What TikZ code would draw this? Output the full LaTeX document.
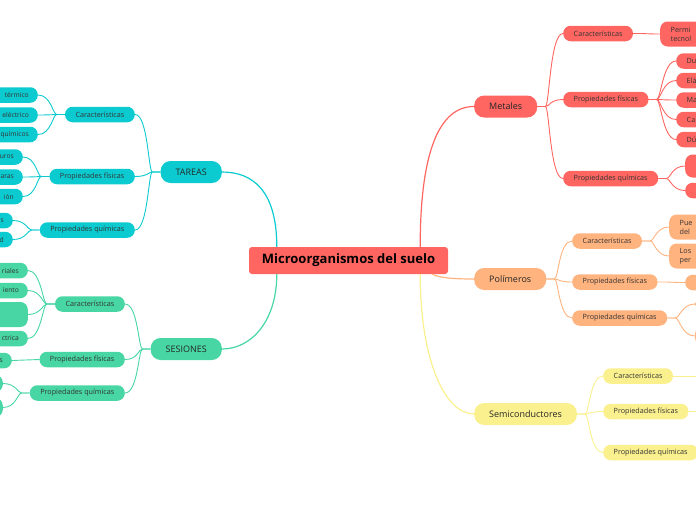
\documentclass[tikz,border=0pt]{standalone}
\usepackage{fontspec}
\setmainfont{Open Sans}
\usepackage{tikz}
\usetikzlibrary{positioning}
\definecolor{mmred}{HTML}{FF6661}
\definecolor{tcyan}{HTML}{0CCBD0}
\definecolor{tmint}{HTML}{47D6A4}
\definecolor{peach}{HTML}{FFB37F}
\definecolor{yel}{HTML}{FAF08E}
\tikzstyle{root} = [rectangle, rounded corners=3pt, fill=mmred, minimum width=199pt, minimum height=27pt, font=\fontsize{13}{15}\selectfont\bfseries]
\tikzstyle{topic} = [rectangle, rounded corners=10pt, minimum height=22pt, inner xsep=15pt, font=\fontsize{9}{11}\selectfont, text=black!85]
\tikzstyle{subnode} = [rectangle, rounded corners=7.5pt, minimum height=15.5pt, inner xsep=10.5pt, font=\fontsize{7.2}{9}\selectfont, text=black!80]
\tikzstyle{leafL} = [subnode, anchor=east, text width=45pt, align=right, inner xsep=9pt, font=\fontsize{6.7}{9}\selectfont]
\tikzstyle{leafR} = [subnode, anchor=west, text width=45pt, align=left]
\tikzstyle{branch} = [line width=1.2pt]
\tikzstyle{twig} = [line width=0.9pt]
\tikzstyle{twigR} = [to path={-- ++(8,0) .. controls +(4,0) and +(-13,0) .. (\tikztotarget)}]
\tikzstyle{twigL} = [to path={-- ++(-8,0) .. controls +(-4,0) and +(13,0) .. (\tikztotarget)}]

\begin{document}
\begin{tikzpicture}[x=1pt, y=-1pt]

  \useasboundingbox (0,0) rectangle (696,520);
  \clip (0,0) rectangle (696,520);

  \node[root] (root) at (348.5,260.5) {Microorganismos del suelo};

  % TAREAS
  \begin{scope}
    \node[topic, fill=tcyan, anchor=east] (tareas) at (222,172) {TAREAS};
    \draw[branch, tcyan] (root.north west) ++(28,0) .. controls +(0,-57) and +(30,0) .. (tareas.east);

    \node[subnode, fill=tcyan, anchor=east] (tcar) at (135,114.5) {Características};
    \node[subnode, fill=tcyan, anchor=east] (tfis) at (135,176.5) {Propiedades físicas};
    \node[subnode, fill=tcyan, anchor=east] (tqui) at (135,230) {Propiedades químicas};
    \foreach \s in {tcar, tfis, tqui} {
      \draw[twig, tcyan] (tareas.west) to[twigL] (\s.east);
    }

    \foreach \y/\t [count=\i] in {95/térmico, 115/eléctrico, 134.5/químicos} {
      \node[leafL, fill=tcyan] (tcar\i) at (38,\y) {\t};
      \draw[twig, tcyan] (tcar.west) to[twigL] (tcar\i.east);
    }
    \foreach \y/\t [count=\i] in {157/uros, 177/aras, 196.5/ión} {
      \node[leafL, fill=tcyan] (tfis\i) at (23,\y) {\t};
      \draw[twig, tcyan] (tfis.west) to[twigL] (tfis\i.east);
    }
    \foreach \y/\t [count=\i] in {220.5/s, 239.5/d} {
      \node[leafL, fill=tcyan] (tqui\i) at (13,\y) {\t};
      \draw[twig, tcyan] (tqui.west) to[twigL] (tqui\i.east);
    }
  \end{scope}

  % SESIONES
  \begin{scope}
    \node[topic, fill=tmint, anchor=east] (sesiones) at (222,349) {SESIONES};
    \draw[branch, tmint] (root.south west) ++(28,0) .. controls +(0,46) and +(30,0) .. (sesiones.east);

    \node[subnode, fill=tmint, anchor=east] (scar) at (125,304) {Características};
    \node[subnode, fill=tmint, anchor=east] (sfis) at (125,359.5) {Propiedades físicas};
    \node[subnode, fill=tmint, anchor=east] (squi) at (125,393) {Propiedades químicas};
    \foreach \s in {scar, sfis, squi} {
      \draw[twig, tmint] (sesiones.west) to[twigL] (\s.east);
    }

    \foreach \y/\t/\h [count=\i] in {270.5/riales/15.5, 290.5/iento/15.5, 314.5/{}/25, 338.5/ctrica/15.5} {
      \node[leafL, fill=tmint, minimum height=\h] (scar\i) at (28,\y) {\t};
      \draw[twig, tmint] (scar.west) to[twigL] (scar\i.east);
    }
    \node[leafL, fill=tmint] (sfis1) at (12,360.5) {s};
    \draw[twig, tmint] (sfis.west) -- (sfis1.east);
    \foreach \y/\h [count=\i] in {383.5/17, 407.5/19} {
      \node[leafL, fill=tmint, minimum height=\h] (squi\i) at (3,\y) {};
      \draw[twig, tmint] (squi.west) to[twigL] (squi\i.east);
    }
  \end{scope}

  % Metales
  \begin{scope}
    \node[topic, fill=mmred, anchor=west] (metales) at (474,106.5) {Metales};
    \draw[branch, mmred] (root.north east) ++(-28,0) .. controls +(0,-97) and +(-34,0) .. (metales.west);

    \node[subnode, fill=mmred, anchor=west] (mcar) at (563,33.5) {Características};
    \node[subnode, fill=mmred, anchor=west] (mfis) at (563,99.5) {Propiedades físicas};
    \node[subnode, fill=mmred, anchor=west] (mqui) at (563,178.5) {Propiedades químicas};
    \foreach \s in {mcar, mfis, mqui} {
      \draw[twig, mmred] (metales.east) to[twigR] (\s.west);
    }

    \node[leafR, fill=mmred, minimum height=25] (mcar1) at (660,34) {Permi\\tecnol};
    \draw[twig, mmred] (mcar.east) to[twigR] (mcar1.west);
    \foreach \y/\t [count=\i] in {61/Du, 80.5/Elá, 100/Ma, 119.5/Ca, 139.5/Dú} {
      \node[leafR, fill=mmred] (mfis\i) at (676,\y) {\t};
      \draw[twig, mmred] (mfis.east) to[twigR] (mfis\i.west);
    }
    \foreach \y/\h [count=\i] in {166/23, 190.5/15.5} {
      \node[leafR, fill=mmred, minimum height=\h] (mqui\i) at (685,\y) {};
      \draw[twig, mmred] (mqui.east) to[twigR] (mqui\i.west);
    }
  \end{scope}

  % Polimeros
  \begin{scope}
    \node[topic, fill=peach, anchor=west] (polimeros) at (474,279) {Polímeros};
    \draw[branch, peach] (root.south east) ++(-16,0) .. controls +(8,4) and +(-18,0) .. (polimeros.west);

    \node[subnode, fill=peach, anchor=west] (pcar) at (572,241) {Características};
    \node[subnode, fill=peach, anchor=west] (pfis) at (572,282) {Propiedades físicas};
    \node[subnode, fill=peach, anchor=west] (pqui) at (572,318) {Propiedades químicas};
    \foreach \s in {pcar, pfis, pqui} {
      \draw[twig, peach] (polimeros.east) to[twigR] (\s.west);
    }

    \foreach \y/\t [count=\i] in {227/{Pue\\del}, 256/{Los\\per}} {
      \node[leafR, fill=peach, minimum height=25] (pcar\i) at (669,\y) {\t};
      \draw[twig, peach] (pcar.east) to[twigR] (pcar\i.west);
    }
    \node[leafR, fill=peach] (pfis1) at (685,282.5) {};
    \draw[twig, peach] (pfis.east) to[twigR] (pfis1.west);
    \foreach \y/\h [count=\i] in {304/13, 336/20} {
      \node[leafR, fill=peach, minimum height=\h] (pqui\i) at (695,\y) {};
      \draw[twig, peach] (pqui.east) to[twigR] (pqui\i.west);
    }
  \end{scope}

  % Semiconductores
  \begin{scope}
    \node[topic, fill=yel, anchor=west] (semi) at (474,414) {Semiconductores};
    \draw[branch, yel] (root.south east) ++(-28,0) .. controls +(0,86) and +(-29,0) .. (semi.west);

    \node[subnode, fill=yel, anchor=west] (ycar) at (603,376) {Características};
    \node[subnode, fill=yel, anchor=west] (yfis) at (603,411.5) {Propiedades físicas};
    \node[subnode, fill=yel, anchor=west] (yqui) at (603,452.5) {Propiedades químicas};
    \foreach \s in {ycar, yfis, yqui} {
      \draw[twig, yel] (semi.east) to[twigR] (\s.west);
    }
    \coordinate (ycar1) at (710,376);
    \coordinate (yfis1) at (710,411.5);
    \draw[twig, yel] (ycar.east) -- (ycar1);
    \draw[twig, yel] (yfis.east) -- (yfis1);
  \end{scope}

\end{tikzpicture}
\end{document}
